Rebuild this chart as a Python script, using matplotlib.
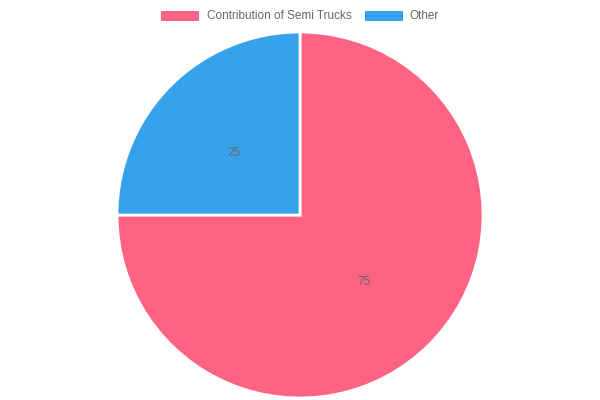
import matplotlib
matplotlib.use("Agg")
import matplotlib.pyplot as plt
from matplotlib.patches import Rectangle
from matplotlib.transforms import offset_copy

labels = ["Contribution of Semi Trucks", "Other"]
values = [75, 25]
colors = ["#FF6384", "#36A2EB"]

W, H = 600, 400
fig = plt.figure(figsize=(6, 4), dpi=100)
plt.rcParams['font.family'] = ['Liberation Sans', 'DejaVu Sans']

cx, cy, r = 300, 215, 183
ax = fig.add_axes([(cx - r) / W, (H - cy - r) / H, 2 * r / W, 2 * r / H])
wedges, texts, autotexts = ax.pie(
    values, colors=colors, startangle=90, counterclock=False,
    autopct=lambda p: f"{p * sum(values) / 100:.0f}", pctdistance=0.5,
    wedgeprops=dict(edgecolor="white", linewidth=2),
    textprops=dict(color="#666666", fontsize=8.5))
for t in autotexts:
    t.set_transform(offset_copy(ax.transData, fig=fig, x=-1, y=-2.5, units="dots"))
ax.set_xlim(-1.0, 1.0)
ax.set_ylim(-1.0, 1.0)
ax.set_aspect("equal")
ax.axis("off")

# legend
items = [(161, 207), (365, 410)]
for (bx, tx), lab, col in zip(items, labels, colors):
    fig.add_artist(Rectangle((bx / W, 1 - 21 / H), 38 / W, 10 / H,
                             transform=fig.transFigure, facecolor=col,
                             edgecolor="none"))
    fig.text(tx / W, 1 - 16 / H, lab, ha="left", va="center",
             fontsize=8.5, color="#666666")

fig.savefig("out.png", dpi=100)
